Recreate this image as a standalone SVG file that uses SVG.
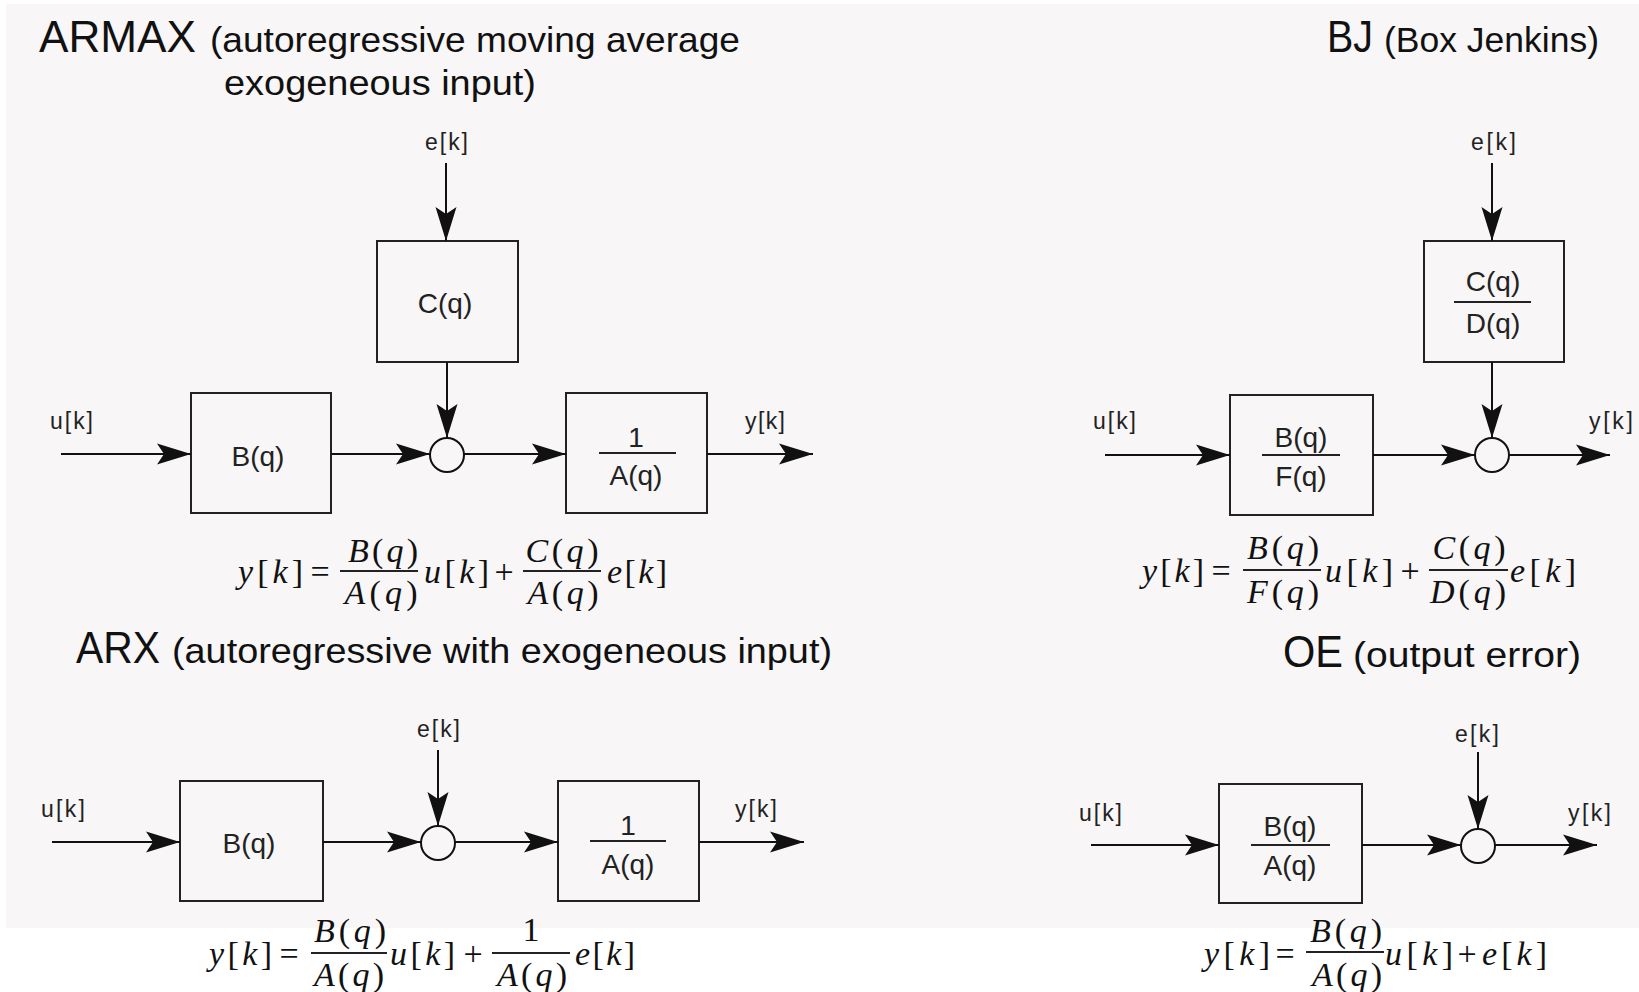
<svg xmlns="http://www.w3.org/2000/svg" width="1639" height="992" viewBox="0 0 1639 992">
<defs>
<style>
.bg{fill:#f8f6f7}
.box{fill:none;stroke:#222;stroke-width:2}
.sum{fill:none;stroke:#111;stroke-width:2}
.wire{stroke:#111;stroke-width:2;fill:none;marker-end:url(#ah)}
.bar{stroke:#222;stroke-width:2}
.acr{font-family:"Liberation Sans",Arial,sans-serif;font-size:44px;fill:#111}
.par{font-family:"Liberation Sans",Arial,sans-serif;font-size:35px;fill:#111}
.sig{font-family:"Liberation Sans",Arial,sans-serif;font-size:23px;fill:#222}
.blk{font-family:"Liberation Sans",Arial,sans-serif;font-size:28px;fill:#222;text-anchor:middle}
.eq{font-family:"Liberation Serif","Times New Roman",serif;font-size:34px;fill:#111}
.it{font-style:italic}
.mid{text-anchor:middle}
</style>
<marker id="ah" viewBox="0 -12 36 24" markerWidth="36" markerHeight="24" refX="34" refY="0" orient="auto" markerUnits="userSpaceOnUse">
<path d="M34,0 L0,-10.5 L7,0 L0,10.5 Z" fill="#111"/>
</marker>
</defs>

<rect class="bg" x="6" y="4" width="1633" height="924"/>

<!-- Titles -->
<g id="titles">
<text class="acr" x="39" y="52" textLength="157" lengthAdjust="spacingAndGlyphs">ARMAX</text>
<text class="par" x="210" y="52" textLength="530" lengthAdjust="spacingAndGlyphs">(autoregressive moving average</text>
<text class="par" x="224" y="95" textLength="312" lengthAdjust="spacingAndGlyphs">exogeneous input)</text>
<text class="acr" x="1327" y="52" textLength="46" lengthAdjust="spacingAndGlyphs">BJ</text>
<text class="par" x="1384" y="52" textLength="215" lengthAdjust="spacingAndGlyphs">(Box Jenkins)</text>
<text class="acr" x="76" y="663" textLength="84" lengthAdjust="spacingAndGlyphs">ARX</text>
<text class="par" x="172" y="663" textLength="660" lengthAdjust="spacingAndGlyphs">(autoregressive with exogeneous input)</text>
<text class="acr" x="1283" y="667" textLength="60" lengthAdjust="spacingAndGlyphs">OE</text>
<text class="par" x="1353" y="667" textLength="228" lengthAdjust="spacingAndGlyphs">(output error)</text>
</g>

<!-- ARMAX nodes -->
<g id="armax-u"><text class="sig" x="50" y="429" textLength="43">u[k]</text></g>
<g id="armax-e"><text class="sig" x="425" y="150" textLength="43">e[k]</text></g>
<g id="armax-y"><text class="sig" x="745" y="429" textLength="40">y[k]</text></g>
<g id="armax-B"><rect class="box" x="191" y="393" width="140" height="120"/><text class="blk" x="258" y="466">B(q)</text></g>
<g id="armax-C"><rect class="box" x="377" y="241" width="141" height="121"/><text class="blk" x="445" y="313">C(q)</text></g>
<g id="armax-sum"><circle class="sum" cx="447" cy="455" r="17"/></g>
<g id="armax-A"><rect class="box" x="566" y="393" width="141" height="120"/><text class="blk" x="636" y="447">1</text><line class="bar" x1="599" y1="453" x2="676" y2="453"/><text class="blk" x="636" y="485">A(q)</text></g>

<!-- BJ nodes -->
<g id="bj-u"><text class="sig" x="1093" y="429" textLength="43">u[k]</text></g>
<g id="bj-e"><text class="sig" x="1471" y="150" textLength="45">e[k]</text></g>
<g id="bj-y"><text class="sig" x="1589" y="429" textLength="44">y[k]</text></g>
<g id="bj-BF"><rect class="box" x="1230" y="395" width="143" height="120"/><text class="blk" x="1301" y="447">B(q)</text><line class="bar" x1="1262" y1="455" x2="1340" y2="455"/><text class="blk" x="1301" y="486">F(q)</text></g>
<g id="bj-CD"><rect class="box" x="1424" y="241" width="140" height="121"/><text class="blk" x="1493" y="291">C(q)</text><line class="bar" x1="1454" y1="302" x2="1531" y2="302"/><text class="blk" x="1493" y="333">D(q)</text></g>
<g id="bj-sum"><circle class="sum" cx="1492" cy="455" r="17"/></g>

<!-- ARX nodes -->
<g id="arx-u"><text class="sig" x="41" y="817" textLength="44">u[k]</text></g>
<g id="arx-e"><text class="sig" x="417" y="737" textLength="43">e[k]</text></g>
<g id="arx-y"><text class="sig" x="735" y="817" textLength="42">y[k]</text></g>
<g id="arx-B"><rect class="box" x="180" y="781" width="143" height="120"/><text class="blk" x="249" y="853">B(q)</text></g>
<g id="arx-sum"><circle class="sum" cx="438" cy="843" r="17"/></g>
<g id="arx-A"><rect class="box" x="558" y="781" width="141" height="120"/><text class="blk" x="628" y="835">1</text><line class="bar" x1="590" y1="841" x2="666" y2="841"/><text class="blk" x="628" y="874">A(q)</text></g>

<!-- OE nodes -->
<g id="oe-u"><text class="sig" x="1079" y="821" textLength="43">u[k]</text></g>
<g id="oe-e"><text class="sig" x="1455" y="742" textLength="44">e[k]</text></g>
<g id="oe-y"><text class="sig" x="1568" y="821" textLength="43">y[k]</text></g>
<g id="oe-BA"><rect class="box" x="1219" y="784" width="143" height="119"/><text class="blk" x="1290" y="836">B(q)</text><line class="bar" x1="1251" y1="845" x2="1330" y2="845"/><text class="blk" x="1290" y="875">A(q)</text></g>
<g id="oe-sum"><circle class="sum" cx="1478" cy="846" r="17"/></g>

<!-- Connectors -->
<g id="connectors">
<line class="wire" x1="61" y1="454" x2="191" y2="454"/>
<line class="wire" x1="331" y1="454" x2="430" y2="454"/>
<line class="wire" x1="446" y1="163" x2="446" y2="241"/>
<line class="wire" x1="447" y1="362" x2="447" y2="438"/>
<line class="wire" x1="464" y1="454" x2="566" y2="454"/>
<line class="wire" x1="707" y1="454" x2="813" y2="454"/>

<line class="wire" x1="1105" y1="455" x2="1230" y2="455"/>
<line class="wire" x1="1373" y1="455" x2="1475" y2="455"/>
<line class="wire" x1="1492" y1="163" x2="1492" y2="241"/>
<line class="wire" x1="1492" y1="362" x2="1492" y2="438"/>
<line class="wire" x1="1509" y1="455" x2="1610" y2="455"/>

<line class="wire" x1="52" y1="842" x2="180" y2="842"/>
<line class="wire" x1="323" y1="842" x2="421" y2="842"/>
<line class="wire" x1="438" y1="750" x2="438" y2="826"/>
<line class="wire" x1="455" y1="842" x2="558" y2="842"/>
<line class="wire" x1="699" y1="842" x2="804" y2="842"/>

<line class="wire" x1="1091" y1="845" x2="1219" y2="845"/>
<line class="wire" x1="1362" y1="845" x2="1461" y2="845"/>
<line class="wire" x1="1478" y1="752" x2="1478" y2="829"/>
<line class="wire" x1="1495" y1="845" x2="1597" y2="845"/>
</g>

<!-- Equations -->
<g id="eq-armax">
<text class="eq" x="238" y="583" textLength="65" lengthAdjust="spacing"><tspan class="it">y</tspan>[<tspan class="it">k</tspan>]</text>
<text class="eq mid" x="320" y="583">=</text>
<line class="bar" x1="340" y1="571" x2="418" y2="571"/>
<text class="eq mid" x="383" y="562" textLength="70" lengthAdjust="spacing"><tspan class="it">B</tspan>(<tspan class="it">q</tspan>)</text>
<text class="eq mid" x="381" y="604" textLength="73" lengthAdjust="spacing"><tspan class="it">A</tspan>(<tspan class="it">q</tspan>)</text>
<text class="eq" x="424" y="583" textLength="65" lengthAdjust="spacing"><tspan class="it">u</tspan>[<tspan class="it">k</tspan>]</text>
<text class="eq mid" x="504" y="583">+</text>
<line class="bar" x1="523" y1="571" x2="601" y2="571"/>
<text class="eq mid" x="562" y="562" textLength="73" lengthAdjust="spacing"><tspan class="it">C</tspan>(<tspan class="it">q</tspan>)</text>
<text class="eq mid" x="563" y="604" textLength="71" lengthAdjust="spacing"><tspan class="it">A</tspan>(<tspan class="it">q</tspan>)</text>
<text class="eq" x="607" y="583" textLength="60" lengthAdjust="spacing"><tspan class="it">e</tspan>[<tspan class="it">k</tspan>]</text>
</g>

<g id="eq-bj">
<text class="eq" x="1142" y="582" textLength="62" lengthAdjust="spacing"><tspan class="it">y</tspan>[<tspan class="it">k</tspan>]</text>
<text class="eq mid" x="1221" y="582">=</text>
<line class="bar" x1="1243" y1="570" x2="1321" y2="570"/>
<text class="eq mid" x="1283" y="559" textLength="72" lengthAdjust="spacing"><tspan class="it">B</tspan>(<tspan class="it">q</tspan>)</text>
<text class="eq mid" x="1283" y="603" textLength="72" lengthAdjust="spacing"><tspan class="it">F</tspan>(<tspan class="it">q</tspan>)</text>
<text class="eq" x="1325" y="582" textLength="68" lengthAdjust="spacing"><tspan class="it">u</tspan>[<tspan class="it">k</tspan>]</text>
<text class="eq mid" x="1410" y="582">+</text>
<line class="bar" x1="1429" y1="570" x2="1508" y2="570"/>
<text class="eq mid" x="1469" y="559" textLength="73" lengthAdjust="spacing"><tspan class="it">C</tspan>(<tspan class="it">q</tspan>)</text>
<text class="eq mid" x="1468" y="603" textLength="76" lengthAdjust="spacing"><tspan class="it">D</tspan>(<tspan class="it">q</tspan>)</text>
<text class="eq" x="1510" y="582" textLength="66" lengthAdjust="spacing"><tspan class="it">e</tspan>[<tspan class="it">k</tspan>]</text>
</g>

<g id="eq-arx">
<text class="eq" x="209" y="965" textLength="63" lengthAdjust="spacing"><tspan class="it">y</tspan>[<tspan class="it">k</tspan>]</text>
<text class="eq mid" x="289" y="965">=</text>
<line class="bar" x1="311" y1="953" x2="387" y2="953"/>
<text class="eq mid" x="350" y="942" textLength="72" lengthAdjust="spacing"><tspan class="it">B</tspan>(<tspan class="it">q</tspan>)</text>
<text class="eq mid" x="349" y="986" textLength="70" lengthAdjust="spacing"><tspan class="it">A</tspan>(<tspan class="it">q</tspan>)</text>
<text class="eq" x="390" y="965" textLength="65" lengthAdjust="spacing"><tspan class="it">u</tspan>[<tspan class="it">k</tspan>]</text>
<text class="eq mid" x="473" y="965">+</text>
<line class="bar" x1="492" y1="953" x2="570" y2="953"/>
<text class="eq mid" x="531" y="941">1</text>
<text class="eq mid" x="532" y="986" textLength="70" lengthAdjust="spacing"><tspan class="it">A</tspan>(<tspan class="it">q</tspan>)</text>
<text class="eq" x="575" y="965" textLength="60" lengthAdjust="spacing"><tspan class="it">e</tspan>[<tspan class="it">k</tspan>]</text>
</g>

<g id="eq-oe">
<text class="eq" x="1204" y="965" textLength="66" lengthAdjust="spacing"><tspan class="it">y</tspan>[<tspan class="it">k</tspan>]</text>
<text class="eq mid" x="1285" y="965">=</text>
<line class="bar" x1="1306" y1="952" x2="1384" y2="952"/>
<text class="eq mid" x="1346" y="942" textLength="72" lengthAdjust="spacing"><tspan class="it">B</tspan>(<tspan class="it">q</tspan>)</text>
<text class="eq mid" x="1347" y="986" textLength="70" lengthAdjust="spacing"><tspan class="it">A</tspan>(<tspan class="it">q</tspan>)</text>
<text class="eq" x="1385" y="965" textLength="68" lengthAdjust="spacing"><tspan class="it">u</tspan>[<tspan class="it">k</tspan>]</text>
<text class="eq mid" x="1467" y="965">+</text>
<text class="eq" x="1482" y="965" textLength="65" lengthAdjust="spacing"><tspan class="it">e</tspan>[<tspan class="it">k</tspan>]</text>
</g>
</svg>
